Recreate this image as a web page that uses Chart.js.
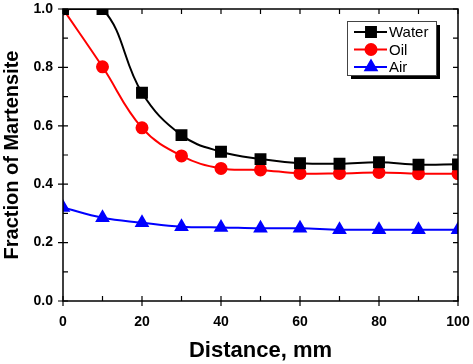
<!DOCTYPE html>
<html><head><meta charset="utf-8">
<script src="https://cdn.jsdelivr.net/npm/chart.js@4.4.1/dist/chart.umd.min.js"></script>
<style>html,body{margin:0;padding:0;background:#fff}#wrap{width:473px;height:364px}</style>
</head><body><div id="wrap"><canvas id="c" width="473" height="364"></canvas></div>
<script>
const distances = [0,10,20,30,40,50,60,70,80,90,100];
const water = [1.0,1.0,0.713,0.568,0.511,0.486,0.472,0.470,0.475,0.467,0.468];
const oil = [1.0,0.802,0.593,0.497,0.454,0.449,0.437,0.437,0.440,0.436,0.436];
const air = [0.320,0.285,0.268,0.254,0.252,0.249,0.249,0.244,0.244,0.244,0.244];
const xTicks = [0,20,40,60,80,100];
const yTicks = [0.0,0.2,0.4,0.6,0.8,1.0];
const seriesNames = ['Water','Oil','Air'];

const FONT = '"Liberation Sans", Arial, sans-serif';

function mk(label, data, color, style, r){
  return {label, data: distances.map((x,i)=>({x, y:data[i]})), borderColor: color, backgroundColor: color,
    pointBackgroundColor: color, pointBorderColor: color, pointStyle: style, pointRadius: r, pointHoverRadius: r,
    borderWidth: 2, tension: 0.4, clip: 0, fill: false};
}

const framePlugin = {
  id: 'frame',
  afterDraw(chart){
    const ctx = chart.ctx, a = chart.chartArea, xs = chart.scales.x, ys = chart.scales.y;
    ctx.save();
    ctx.strokeStyle = '#000'; ctx.lineWidth = 1.5;
    ctx.strokeRect(a.left, a.top, a.right - a.left, a.bottom - a.top);
    ctx.lineWidth = 1.2;
    ctx.beginPath();
    for (let v = 0; v <= 100; v += 10) {
      const p = xs.getPixelForValue(v);
      const major = v % 20 === 0;
      ctx.moveTo(p, a.bottom + (major ? 5 : 0)); ctx.lineTo(p, a.bottom - 5);
      ctx.moveTo(p, a.top); ctx.lineTo(p, a.top + 5);
    }
    for (let k = 0; k <= 10; k++) {
      const p = ys.getPixelForValue(k / 10);
      const major = k % 2 === 0;
      ctx.moveTo(a.left - (major ? 5 : 0), p); ctx.lineTo(a.left + 5, p);
      ctx.moveTo(a.right, p); ctx.lineTo(a.right - 5, p);
    }
    ctx.stroke();
    // legend
    const bx = 347, by = 21, bw = 89, bh = 54;
    ctx.fillStyle = '#000';
    ctx.fillRect(bx + 4, by + 4, bw, bh);
    ctx.fillStyle = '#fff';
    ctx.fillRect(bx, by, bw, bh);
    ctx.strokeStyle = '#444'; ctx.lineWidth = 1;
    ctx.strokeRect(bx + 0.5, by + 0.5, bw, bh);
    chart.data.datasets.forEach((ds, i) => {
      const y = 32 + i * 17.5;
      ctx.strokeStyle = ds.borderColor; ctx.lineWidth = 2;
      ctx.beginPath(); ctx.moveTo(354, y); ctx.lineTo(387, y); ctx.stroke();
      ctx.fillStyle = ds.backgroundColor;
      Chart.helpers.drawPoint(ctx, {pointStyle: ds.pointStyle, radius: ds.pointRadius, rotation: 0, borderWidth: 1}, 371, y);
      ctx.fillStyle = '#000'; ctx.font = '15px ' + FONT; ctx.textBaseline = 'middle'; ctx.textAlign = 'left';
      ctx.fillText(ds.label, 389, y + 1);
    });
    ctx.restore();
  }
};

new Chart(document.getElementById('c'), {
  type: 'line',
  data: { datasets: [
    mk(seriesNames[0], water, '#000000', 'rect', 7),
    mk(seriesNames[1], oil, '#ff0000', 'circle', 5.5),
    mk(seriesNames[2], air, '#0000ff', 'triangle', 6.5)
  ]},
  options: {
    responsive: false, animation: false, devicePixelRatio: 1,
    layout: { padding: { top: 9, right: 15, left: 0, bottom: 0 } },
    plugins: { legend: { display: false }, tooltip: { enabled: false } },
    scales: {
      x: { type: 'linear', min: 0, max: 100,
        afterBuildTicks: s => { s.ticks = xTicks.map(v => ({value: v})); },
        afterFit: s => { s.height = 63; s.paddingLeft = 0; s.paddingRight = 0; s.paddingTop = 0; s.paddingBottom = 0; },
        grid: { display: false, drawTicks: false }, border: { display: false },
        ticks: { padding: 13, color: '#000', font: { family: FONT, size: 14, weight: 'bold' }, maxRotation: 0 },
        title: { display: true, text: 'Distance, mm', color: '#000', font: { family: FONT, size: 22, weight: 'bold' }, padding: { top: 6, bottom: 0 } }
      },
      y: { type: 'linear', min: 0, max: 1,
        afterBuildTicks: s => { s.ticks = yTicks.map(v => ({value: v})); },
        afterFit: s => { s.width = 63; s.paddingLeft = 0; s.paddingRight = 0; s.paddingTop = 0; s.paddingBottom = 0; },
        grid: { display: false, drawTicks: false }, border: { display: false },
        ticks: { padding: 10, color: '#000', font: { family: FONT, size: 14, weight: 'bold' }, callback: v => v.toFixed(1) },
        title: { display: true, text: 'Fraction of Martensite', color: '#000', font: { family: FONT, size: 20, weight: 'bold' }, padding: { top: 0, bottom: 0 } }
      }
    }
  },
  plugins: [framePlugin]
});
</script></body></html>
